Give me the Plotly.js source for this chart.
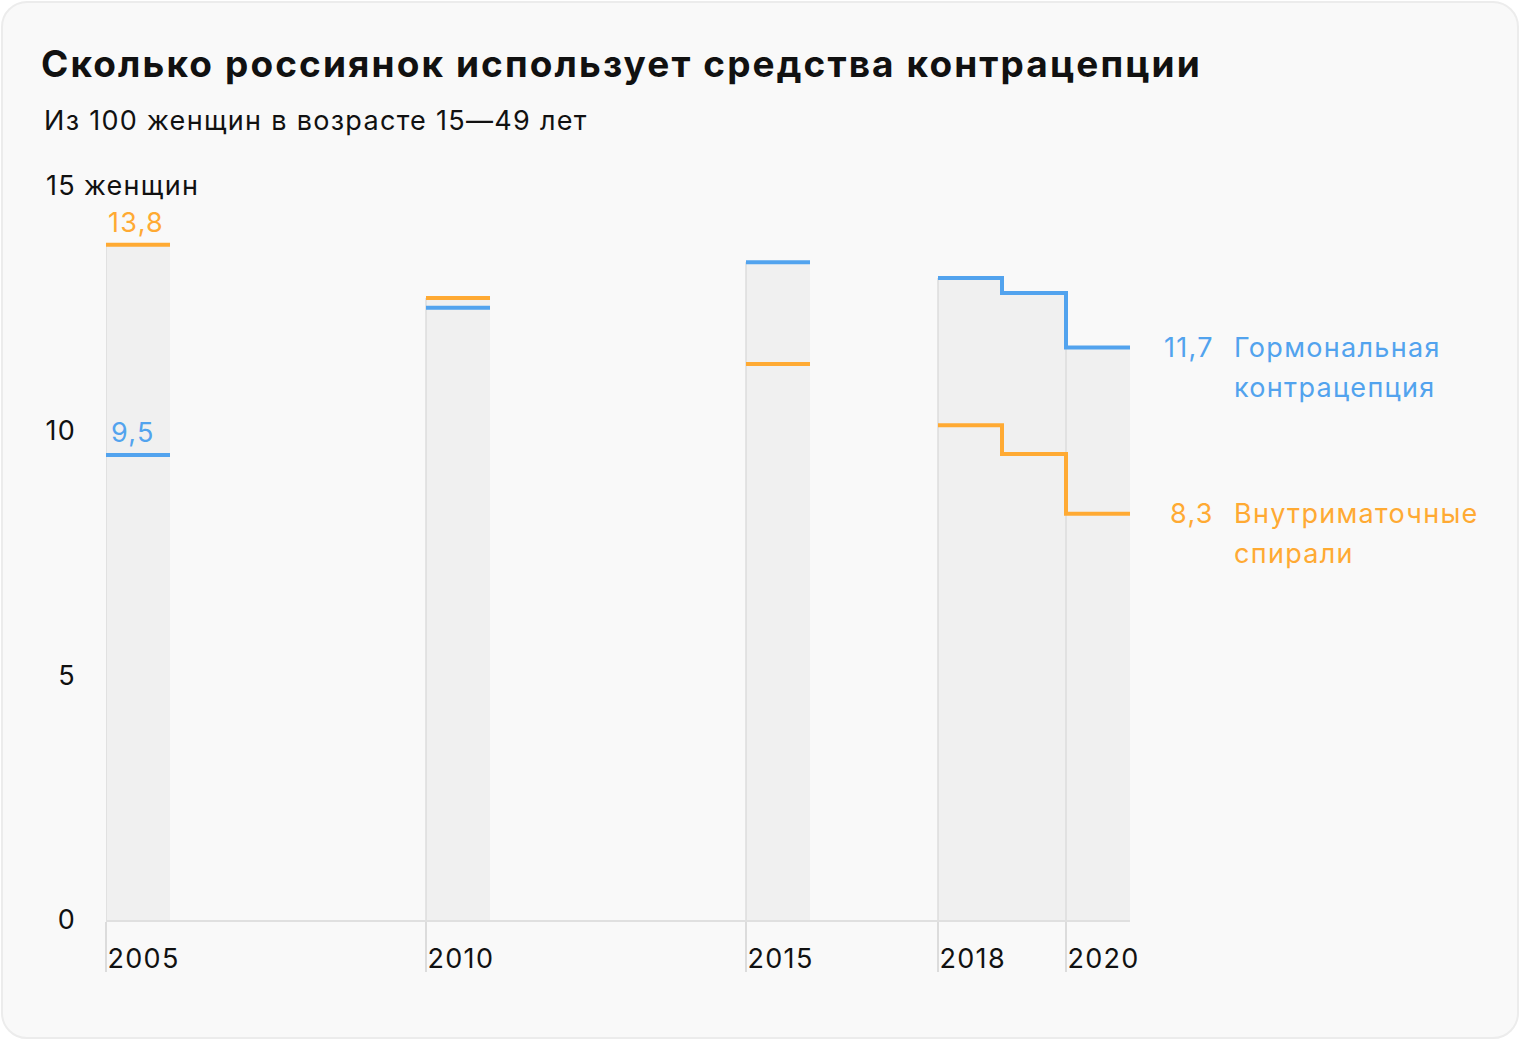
<!DOCTYPE html>
<html><head><meta charset="utf-8">
<script src="https://cdn.plot.ly/plotly-3.0.1.min.js"></script>
<style>
html,body{margin:0;padding:0;background:#ffffff;}
#card{position:absolute;left:1px;top:1px;width:1514px;height:1034px;background:#f9f9f9;border:2px solid #ececec;border-radius:26px;}
#chart{position:absolute;left:0;top:0;width:1520px;height:1040px;}
text{letter-spacing:1.3px;}
.gtitle{letter-spacing:2.1px !important;}
</style></head><body>
<div id="card"></div><div id="chart"></div>
<script>
// ---- data ----
const years = [2005, 2010, 2015, 2018, 2019, 2020];
const hormonal = [9.5, 12.51, 13.44, 13.12, 12.81, 11.7];   // Гормональная контрацепция
const iud = [13.8, 12.71, 11.36, 10.11, 9.52, 8.3];         // Внутриматочные спирали
const tickYears = [2005, 2010, 2015, 2018, 2020];
const yTicks = [0, 5, 10, 15];
const yTickText = ['0', '5', '10', '15'];
const titleText = 'Сколько россиянок использует средства контрацепции';
const subtitleText = 'Из 100 женщин в возрасте 15—49 лет';
const yUnit = 'женщин';
const nameHormonal = ['Гормональная', 'контрацепция'];
const nameIud = ['Внутриматочные', 'спирали'];

// ---- styles ----
const BLUE = '#52a3ee';
const ORANGE = '#ffaa33';
const FONT = 'Inter, Roboto, "Noto Sans", sans-serif';
const FS = 27;
const fmt = v => String(v).replace('.', ',');

const tops = years.map((y, i) => Math.max(hormonal[i], iud[i]));

function stepXY(vals) {
  const x = [], y = [];
  for (let i = 0; i < years.length; i++) {
    x.push(years[i], years[i] + 1);
    y.push(vals[i], vals[i]);
    if (i < years.length - 1 && years[i + 1] !== years[i] + 1) { x.push(null); y.push(null); }
  }
  return {x, y};
}
const vx = [], vy = [];
tickYears.forEach(t => {
  const i = years.indexOf(t);
  vx.push(t, t, null); vy.push(0, tops[i], null);
});

const sH = stepXY(hormonal), sI = stepXY(iud);
const last = years.length - 1;
const endYear = years[last] + 1;

const traces = [
  {type: 'bar', x: years.map(y => y + 0.5), y: tops, width: 1, marker: {color: '#f0f0f0', line: {width: 0}}, hoverinfo: 'skip'},
  {type: 'scatter', mode: 'lines', x: vx, y: vy, line: {color: '#dcdcdc', width: 1.5}, hoverinfo: 'skip'},
  {type: 'scatter', mode: 'lines', x: sI.x, y: sI.y, line: {color: ORANGE, width: 4}, hoverinfo: 'skip'},
  {type: 'scatter', mode: 'lines', x: sH.x, y: sH.y, line: {color: BLUE, width: 4}, hoverinfo: 'skip'}
];

const ann = [
  {x: years[0], y: iud[0], xref: 'x', yref: 'y', text: fmt(iud[0]), showarrow: false, xanchor: 'left', yanchor: 'bottom', xshift: 0, yshift: 4, font: {family: FONT, size: FS, color: ORANGE}},
  {x: years[0], y: hormonal[0], xref: 'x', yref: 'y', text: fmt(hormonal[0]), showarrow: false, xanchor: 'left', yanchor: 'bottom', xshift: 3, yshift: 4, font: {family: FONT, size: FS, color: BLUE}},
  {x: endYear, y: hormonal[last], xref: 'x', yref: 'y', text: fmt(hormonal[last]), showarrow: false, xanchor: 'right', yanchor: 'middle', xshift: 86, font: {family: FONT, size: FS, color: BLUE}},
  {x: endYear, y: iud[last], xref: 'x', yref: 'y', text: fmt(iud[last]), showarrow: false, xanchor: 'right', yanchor: 'middle', xshift: 86, font: {family: FONT, size: FS, color: ORANGE}},
  {x: years[0], y: 15, xref: 'x', yref: 'y', text: yUnit, showarrow: false, xanchor: 'left', yanchor: 'middle', xshift: -24, font: {family: FONT, size: FS, color: '#111'}},
  {x: -64 / 1024, y: (920 - 120) / 760, xref: 'paper', yref: 'paper', text: subtitleText, showarrow: false, xanchor: 'left', yanchor: 'middle', font: {family: FONT, size: FS, color: '#111'}}
];
[[nameHormonal, hormonal[last], BLUE], [nameIud, iud[last], ORANGE]].forEach(([lines, v, c]) => {
  lines.forEach((t, k) => ann.push({x: endYear, y: v, xref: 'x', yref: 'y', text: t, showarrow: false,
    xanchor: 'left', yanchor: 'middle', xshift: 102, yshift: -40 * k, font: {family: FONT, size: FS, color: c}}));
});

const layout = {
  width: 1520, height: 1040,
  margin: {l: 106, r: 390, t: 160, b: 120},
  paper_bgcolor: 'rgba(0,0,0,0)', plot_bgcolor: 'rgba(0,0,0,0)',
  showlegend: false,
  title: {text: '<b>' + titleText + '</b>', xref: 'container', yref: 'container', x: 41 / 1520, xanchor: 'left', y: 1 - 64 / 1040, yanchor: 'middle', font: {family: FONT, size: 37, color: '#111'}},
  xaxis: {range: [years[0], endYear], tickmode: 'array', tickvals: tickYears, ticktext: tickYears.map(String),
          showgrid: false, zeroline: false, showline: true, linecolor: '#e0e0e0', linewidth: 1.5,
          ticks: 'outside', ticklen: 50, tickwidth: 1.5, tickcolor: '#dcdcdc',
          ticklabelposition: 'outside right', ticklabelstandoff: 14,
          tickfont: {family: FONT, size: FS, color: '#111'}, fixedrange: true},
  yaxis: {range: [0, (920 - 160) / 48.94], tickmode: 'array', tickvals: yTicks, ticktext: yTickText,
          showgrid: false, zeroline: false, showline: false, ticks: '', ticklabelstandoff: 29,
          tickfont: {family: FONT, size: FS, color: '#111'}, fixedrange: true},
  annotations: ann
};

Plotly.newPlot('chart', traces, layout, {displayModeBar: false, staticPlot: true});
</script>
</body></html>
